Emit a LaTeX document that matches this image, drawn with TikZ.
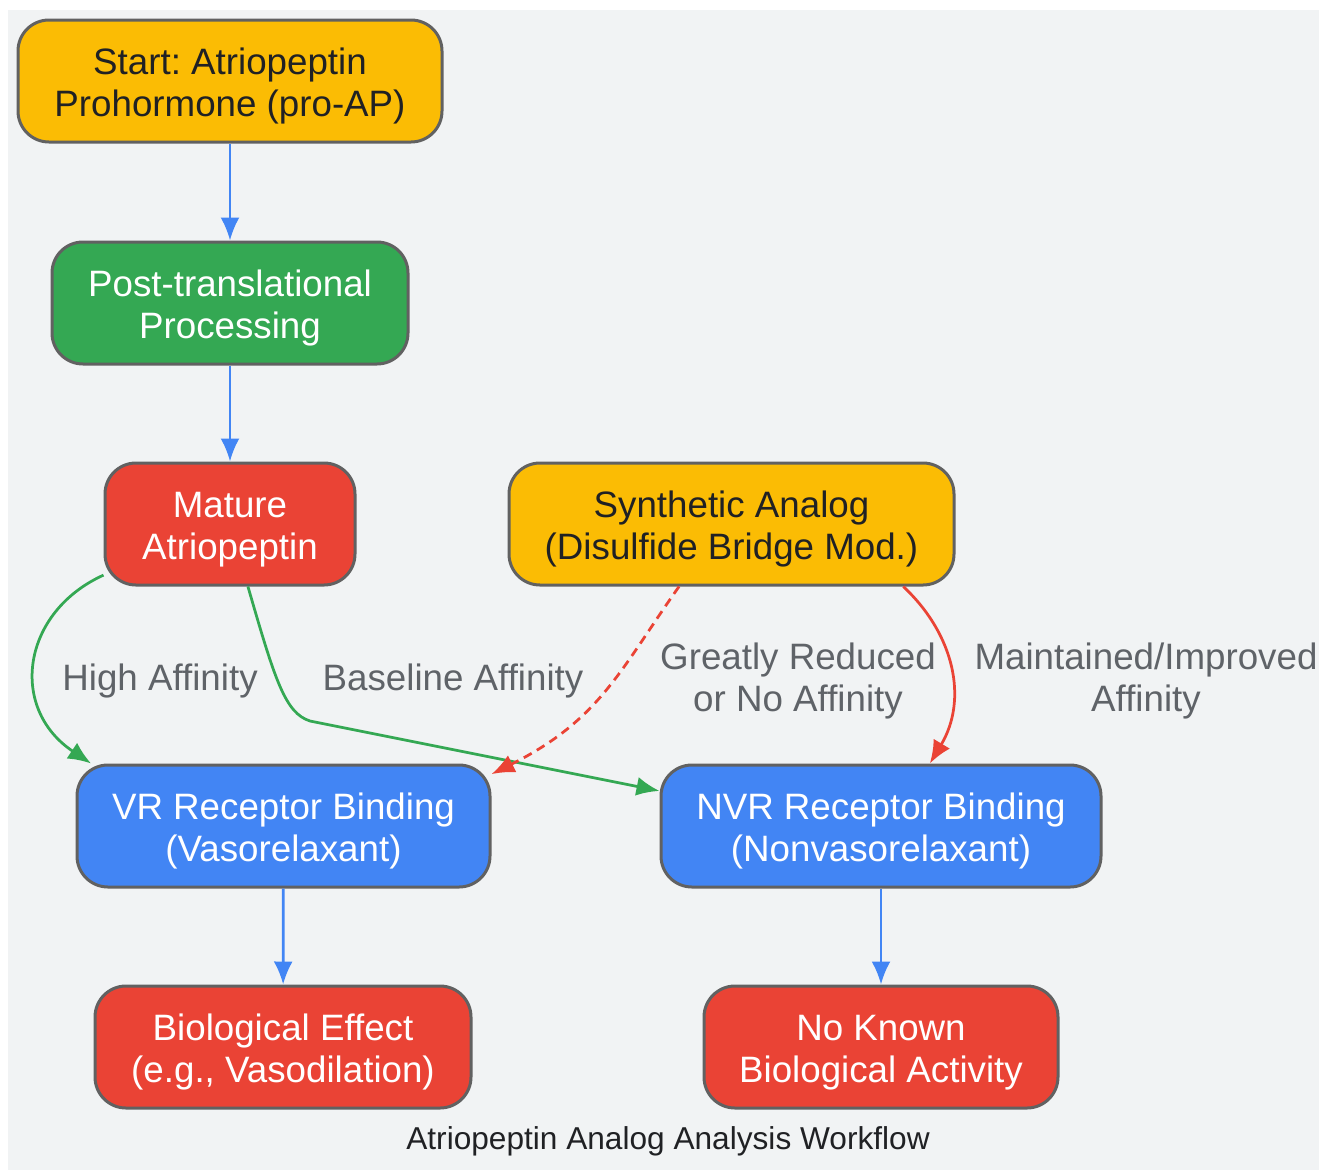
\documentclass[tikz,border=0pt]{standalone}
\usepackage{fontspec}
\setmainfont{Liberation Sans}
\usetikzlibrary{arrows.meta}
\frenchspacing
\definecolor{bgrey}{HTML}{F1F3F4}
\definecolor{gyellow}{HTML}{FBBC04}
\definecolor{ggreen}{HTML}{34A853}
\definecolor{gred}{HTML}{EA4335}
\definecolor{gblue}{HTML}{4285F4}
\definecolor{gborder}{HTML}{616161}
\definecolor{glabel}{HTML}{5F6368}
\definecolor{gtext}{HTML}{202124}

\begin{document}
\begin{tikzpicture}[
    >={Latex[length=0.46cm,width=0.38cm]},
    box/.style={draw=gborder, line width=0.06cm, rounded corners=0.62cm,
                minimum height=2.44cm, inner sep=0pt, align=center,
                font=\fontsize{20.9}{23.9}\selectfont,
                execute at begin node={\rule{0pt}{1.58cm}}},
    yellowbox/.style={box, fill=gyellow, text=gtext},
    greenbox/.style={box, fill=ggreen, text=white},
    redbox/.style={box, fill=gred, text=white},
    bluebox/.style={box, fill=gblue, text=white},
    link/.style={->, line width=0.055cm},
    lbl/.style={text=glabel, align=center, inner sep=0pt,
                font=\fontsize{20.9}{23.9}\selectfont}]
  % background
  \useasboundingbox (0,0) rectangle (26.38,-23.4);
  \fill[bgrey] (0.16,-0.2) rectangle (26.38,-23.4);
  % draw nodes
  \node (start)  at (4.60,-1.62)  [yellowbox, minimum width=8.48cm]
        {Start: Atriopeptin\\Prohormone (pro-AP)};
  \node (post)   at (4.60,-6.06)  [greenbox, minimum width=7.12cm]
        {Post-translational\\Processing};
  \node (mature) at (4.60,-10.48) [redbox, minimum width=5.00cm]
        {Mature\\Atriopeptin};
  \node (synth)  at (14.63,-10.48) [yellowbox, minimum width=8.90cm]
        {Synthetic Analog\\(Disulfide Bridge Mod.)};
  \node (vr)     at (5.67,-16.52) [bluebox, minimum width=8.26cm]
        {VR Receptor Binding\\(Vasorelaxant)};
  \node (nvr)    at (17.62,-16.52) [bluebox, minimum width=8.80cm]
        {NVR Receptor Binding\\(Nonvasorelaxant)};
  \node (bio)    at (5.66,-20.94) [redbox, minimum width=7.52cm]
        {Biological Effect\\(e.g., Vasodilation)};
  \node (none)   at (17.62,-20.94) [redbox, minimum width=7.08cm]
        {No Known\\Biological Activity};
  % draw straight links
  \draw[link, gblue] (start) -- (post);
  \draw[link, gblue] (post) -- (mature);
  \draw[link, gblue] (vr) -- (bio);
  \draw[link, gblue] (nvr) -- (none);
  % draw curved links
  \coordinate (bend) at (6.20,-14.42);
  \draw[link, ggreen] (mature.202) .. controls (0.44,-12.24) and (0.16,-14.16) .. (vr.162);
  \draw[link, ggreen] (mature.286) .. controls (5.50,-13.60) and (5.70,-14.26) .. (bend) -- (nvr.171);
  \draw[link, gred, dash pattern=on 0.18cm off 0.12cm]
        (synth.230) .. controls (12.40,-13.40) and (12.00,-14.40) .. (vr.14.5);
  \draw[link, gred] (synth.340) .. controls (19.10,-12.70) and (19.36,-14.00) .. (nvr.52);
  % draw labels
  \node (lhigh)  at (3.20,-13.62)  [lbl] {High Affinity};
  \node (lbase)  at (9.06,-13.62)  [lbl] {Baseline Affinity};
  \node (lred)   at (15.96,-13.61) [lbl] {Greatly Reduced\\or No Affinity};
  \node (lmaint) at (22.92,-13.61) [lbl] {Maintained/Improved\\Affinity};
  % caption
  \node (title) at (13.36,-22.82) [text=gtext, font=\fontsize{18}{21}\selectfont]
        {Atriopeptin Analog Analysis Workflow};
\end{tikzpicture}
\end{document}
